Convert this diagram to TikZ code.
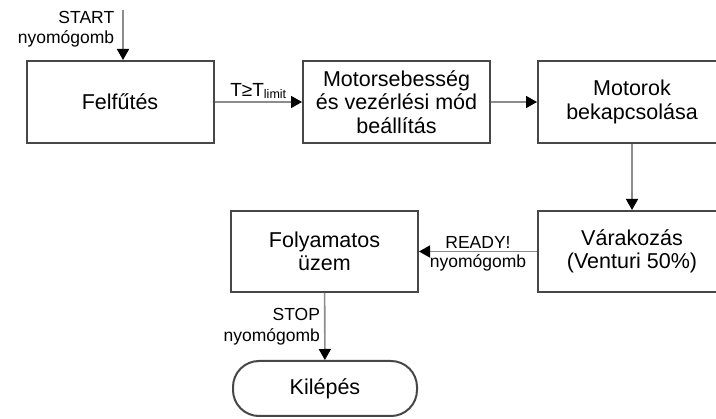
\documentclass[tikz,border=0pt]{standalone}
\usepackage{fontspec}
\setmainfont{Liberation Sans}
\usetikzlibrary{arrows.meta,positioning}

\tikzset{
  stepbox/.style={draw=black!72, line width=2pt, minimum width=187pt,
    minimum height=82pt, inner sep=0pt, align=center,
    font=\fontsize{21.5}{23.5}\selectfont},
  endbox/.style={stepbox, rounded corners=26pt, minimum width=184pt,
    minimum height=55pt},
  flow/.style={draw=black!45, line width=1.6pt,
    -{Triangle[length=11pt,width=12pt,color=black]}},
  lbl/.style={font=\fontsize{17.5}{20.5}\selectfont, inner sep=2pt}
}

\begin{document}
\begin{tikzpicture}[x=1pt,y=-1pt]
  \useasboundingbox (0,0) rectangle (716,419);
  \clip (0,0) rectangle (716,419);
  % boxes
  \node[stepbox] (heat) at (120,102) {Felfűtés};
  \node[stepbox] (speed) at (396.5,102) {Motorsebesség\\és vezérlési mód\\beállítás};
  \node[stepbox,minimum width=188pt] (motor) at (632,102) {Motorok\\bekapcsolása};
  \node[stepbox,minimum width=188pt,minimum height=81pt] (wait) at (632,251.5) {Várakozás\\(Venturi 50\%)};
  \node[stepbox,minimum height=81pt] (run) at (324.5,251.5) {Folyamatos\\üzem};
  \node[endbox] (exit) at (325,388.5) {Kilépés};
  % connectors
  \coordinate (start) at (123,10);
  \draw[flow] (start) -- (start |- heat.north)
    node[lbl,midway,left,align=right,xshift=-6pt,yshift=6pt] {START\\nyomógomb};
  \draw[flow] (heat) -- (speed)
    node[lbl,midway,above,yshift=1pt] {\fontsize{19}{19}\selectfont T≥T\raisebox{-2pt}{\fontsize{12.5}{12.5}\selectfont limit}};
  \draw[flow] (speed) -- (motor);
  \draw[flow] (motor) -- (wait);
  \draw[flow] (wait) -- (run)
    node[lbl,midway,above] {READY!}
    node[lbl,midway,below] {nyomógomb};
  \draw[flow] (run) -- (exit)
    node[lbl,midway,left,align=right,xshift=-2pt] {STOP\\nyomógomb};
\end{tikzpicture}
\end{document}
